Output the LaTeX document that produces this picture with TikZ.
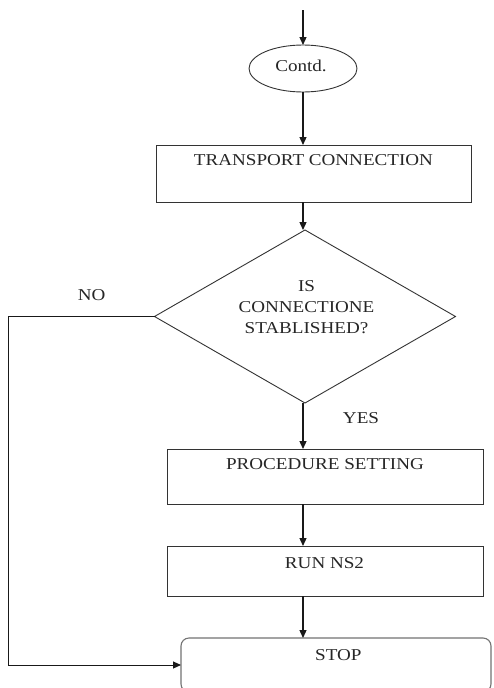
\documentclass[tikz,border=0pt]{standalone}
\usepackage{fontspec}
\setmainfont{Liberation Serif}[FakeStretch=1.15]
\usetikzlibrary{arrows.meta,shapes.geometric}
\begin{document}
\begin{tikzpicture}[x=1pt,y=-1pt,
  box/.style={draw=black!80, line width=0.9pt, rectangle, inner sep=0pt, outer sep=0pt},
  txt/.style={anchor=base, inner sep=0pt, font=\fontsize{16.6}{20}\selectfont, text=black!85},
  arr/.style={-{Triangle[length=8pt,width=7pt]}, line width=1.3pt, draw=black!90},
  loopline/.style={-{Triangle[length=8pt,width=7pt]}, line width=1pt, draw=black!90}]
\useasboundingbox (0,0) rectangle (493,688);
\clip (0,0) rectangle (493,688);
\fill[white] (0,0) rectangle (493,688);

\coordinate (start) at (303,10);
\node[box, ellipse, minimum width=108pt, minimum height=47pt] (contd) at (303,68.5) {};
\node[txt] (contdt) at (301,71) {Contd.};

\node[box, minimum width=315pt, minimum height=57pt] (tc) at (313.5,173.5) {};
\node[txt] (tct) at (313.5,165) {TRANSPORT CONNECTION};

\node[box, diamond, minimum width=301pt, minimum height=173pt] (dec) at (305,316.5) {};
\node[txt] (dect1) at (306.5,291.7) {IS};
\node[txt] (dect2) at (306.5,312.3) {CONNECTIONE};
\node[txt] (dect3) at (306.5,333.3) {STABLISHED?};

\node[txt] (no) at (91.7,300) {NO};
\node[txt] (yes) at (361,423) {YES};

\node[box, minimum width=316pt, minimum height=55pt] (proc) at (325,476.5) {};
\node[txt] (proct) at (325,469) {PROCEDURE SETTING};

\node[box, minimum width=316pt, minimum height=50pt] (run) at (325,571) {};
\node[txt] (runt) at (324.5,568) {RUN NS2};

\node[box, draw=black!55, line width=1.1pt, rounded corners=8pt, minimum width=310pt, minimum height=54pt] (stop) at (336,665) {};
\node[txt] (stopt) at (338.3,660.5) {STOP};

\coordinate (nocorner) at (8,316.5);

\draw[arr] (start) -- (contd.north);
\draw[arr] (contd.south) -- (contd.south |- tc.north);
\draw[arr] (tc.south -| start) -- (start |- dec.north);
\draw[arr] (dec.south -| start) -- (start |- proc.north);
\draw[arr] (proc.south -| start) -- (start |- run.north);
\draw[arr] (run.south -| start) -- (start |- stop.north);
\draw[loopline] (dec.west) -- (nocorner) |- (stop.west);
\end{tikzpicture}
\end{document}
